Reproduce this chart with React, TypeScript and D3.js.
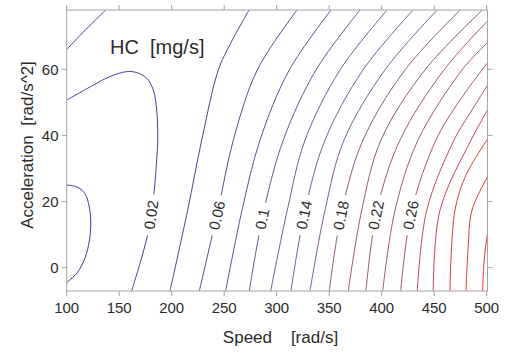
import React, { useEffect, useRef } from "react";
import * as d3 from "d3";

const W = 507;
const H = 353;

// axes
const speedTicks = [100, 150, 200, 250, 300, 350, 400, 450, 500];
const accelTicks = [0, 20, 40, 60];
const speedExtent = [100, 500.8];
const accelExtent = [-7.05, 77.93];

// contour lines: [speed, acceleration]
const hcLoop: [number, number][] = [[100, 25.0], [109.8, 24.4], [117.4, 22.4], [121.5, 18.4], [122.9, 13.8], [121.7, 8.4], [117.4, 2.9], [109.8, -1.6], [100, -4.5]];
const hc002: [number, number][] = [[161.9, -7], [169.8, 1.3], [176.7, 9.4], [180.3, 15.9], [183.4, 23.5], [185.7, 32.6], [186.7, 38.6], [185.7, 47.7], [182.5, 53.7], [176.2, 57.3], [166.7, 59.0], [157.1, 59.3], [141.2, 57.8], [125.3, 55.2], [100, 50.7]];
const hcCorner: [number, number][] = [[100, 66.0], [118.4, 72.1], [137.1, 77.9]];
const hc004: [number, number][] = [[198.4, -7], [215.2, 17.4], [228.6, 38.6], [244.4, 59.8], [255.5, 67.5], [273.6, 77.9]];
const hc006: [number, number][] = [[226.3, -7], [244.1, 17.4], [258.7, 38.6], [281.5, 59.8], [319.3, 77.9]];
const hc008: [number, number][] = [[251.4, -7], [267.0, 17.4], [284.1, 38.6], [312.0, 59.8], [351.7, 77.9]];
const hc010: [number, number][] = [[273.9, -7], [287.9, 17.4], [306.3, 38.6], [337.4, 59.8], [379.3, 77.9]];
const hc012: [number, number][] = [[294.3, -7], [310.1, 17.4], [327.0, 38.6], [360.3, 59.8], [405.1, 77.9]];
const hc014: [number, number][] = [[313.6, -7], [327.0, 17.4], [346.0, 38.6], [382.2, 59.8], [429.8, 77.9]];
const hc016: [number, number][] = [[331.7, -7], [346.0, 17.4], [364.1, 38.6], [403.1, 59.8], [452.7, 77.9]];
const hc018: [number, number][] = [[350.1, -7], [362.2, 17.4], [382.2, 38.6], [422.2, 59.8], [474.6, 77.9]];
const hc020: [number, number][] = [[368.2, -7], [381.0, 17.4], [399.3, 38.6], [441.2, 59.8], [495.8, 77.9]];
const hc022: [number, number][] = [[385.0, -7], [395.5, 17.4], [417.4, 38.6], [459.3, 59.8], [500.8, 74.6]];
const hc024: [number, number][] = [[401.0, -7], [412.7, 17.4], [434.6, 38.6], [476.5, 59.8], [500.8, 68.1]];
const hc026: [number, number][] = [[418.1, -7], [428.6, 17.4], [451.7, 38.6], [474.6, 50.7], [500.8, 62.0]];
const hc028: [number, number][] = [[433.9, -7], [442.9, 17.4], [468.9, 38.6], [486.0, 47.7], [500.8, 55.2]];
const hc030: [number, number][] = [[449.1, -7], [455.5, 17.4], [485.1, 38.6], [500.8, 47.7]];
const hc032: [number, number][] = [[465.0, -7], [469.8, 17.4], [480.3, 28.0], [500.8, 38.9]];
const hc034: [number, number][] = [[480.3, -7], [482.2, 5.4], [486.0, 17.4], [500.8, 27.5]];
const hc036: [number, number][] = [[496.2, -7], [497.4, 1.7], [500.8, 10.5]];

const contourLevels = [0, 0.02, 0.04, 0.04, 0.06, 0.08, 0.1, 0.12, 0.14, 0.16, 0.18, 0.2, 0.22, 0.24, 0.26, 0.28, 0.3, 0.32, 0.34, 0.36];
const contourLines = [hcLoop, hc002, hcCorner, hc004, hc006, hc008, hc010, hc012, hc014, hc016, hc018, hc020, hc022, hc024, hc026, hc028, hc030, hc032, hc034, hc036];

// inline labels
const labelLine = [1, 4, 6, 8, 10, 12, 14];
const labelTexts = ["0.02", "0.06", "0.1", "0.14", "0.18", "0.22", "0.26"];
const labelAccel = [15.9, 15.9, 14.7, 15.9, 15.9, 15.9, 15.9];

const FONT = "'Liberation Sans', Arial, Helvetica, sans-serif";
const TEXT = "#2b2b2b";
const FRAME = "#a3a3a3";

export default function App() {
  const ref = useRef<SVGSVGElement | null>(null);

  useEffect(() => {
    const svg = d3.select(ref.current);
    svg.selectAll("*").remove();

    const x = d3.scaleLinear().domain([100, 500]).range([66.7, 486.7]);
    const y = d3.scaleLinear().domain([0, 60]).range([267.7, 69.3]);
    const x0 = x(speedExtent[0]);
    const x1 = x(speedExtent[1]);
    const y0 = y(accelExtent[0]);
    const y1 = y(accelExtent[1]);

    const color = d3
      .scaleLinear<string>()
      .domain([0, 0.12, 0.24, 0.36])
      .range(["#37399c", "#7158a6", "#ad5374", "#f0301c"])
      .interpolate(d3.interpolateRgb);

    svg.append("rect").attr("width", W).attr("height", H).attr("fill", "#fff");

    svg
      .append("defs")
      .append("clipPath")
      .attr("id", "plotclip")
      .append("rect")
      .attr("x", x0)
      .attr("y", y1)
      .attr("width", x1 - x0)
      .attr("height", y0 - y1);

    const g = svg.append("g").attr("clip-path", "url(#plotclip)");
    const line = d3
      .line<[number, number]>()
      .x((d) => x(d[0]))
      .y((d) => y(d[1]))
      .curve(d3.curveCatmullRom.alpha(0.5));

    const paths = contourLines.map((pts, i) =>
      g
        .append("path")
        .attr("d", line(pts) as string)
        .attr("fill", "none")
        .attr("stroke", color(contourLevels[i]))
        .attr("stroke-width", 1)
    );

    // labels
    const lg = svg.append("g");
    labelLine.forEach((li, k) => {
      const node = paths[li].node() as SVGPathElement;
      const total = node.getTotalLength();
      const ty = y(labelAccel[k]);
      let best = 0;
      let bestD = Infinity;
      for (let s = 0; s <= total; s += 0.5) {
        const p = node.getPointAtLength(s);
        const d = Math.abs(p.y - ty);
        if (d < bestD) {
          bestD = d;
          best = s;
        }
      }
      const p = node.getPointAtLength(best);
      const pa = node.getPointAtLength(Math.max(0, best - 4));
      const pb = node.getPointAtLength(Math.min(total, best + 4));
      let ang = (Math.atan2(pb.y - pa.y, pb.x - pa.x) * 180) / Math.PI;
      if (ang > 0) ang -= 180;
      const tg = lg.append("g").attr("transform", `translate(${p.x},${p.y}) rotate(${ang})`);
      const txt = tg
        .append("text")
        .attr("text-anchor", "middle")
        .attr("dy", "0.36em")
        .attr("font-family", FONT)
        .attr("font-size", 15)
        .attr("fill", TEXT)
        .text(labelTexts[k]);
      const len = (txt.node() as SVGTextElement).getComputedTextLength();
      tg.insert("rect", "text")
        .attr("x", -len / 2 - 6)
        .attr("y", -6.5)
        .attr("width", len + 12)
        .attr("height", 13)
        .attr("fill", "#fff");
    });

    // frame
    const fr = svg.append("g").attr("stroke", FRAME).attr("fill", "none").attr("stroke-width", 1);
    fr.append("rect").attr("x", x0).attr("y", y1).attr("width", x1 - x0).attr("height", y0 - y1);
    speedTicks.forEach((t) => {
      const px = x(t);
      fr.append("line").attr("x1", px).attr("x2", px).attr("y1", y0).attr("y2", y0 + 5);
      fr.append("line").attr("x1", px).attr("x2", px).attr("y1", y1).attr("y2", y1 - 5);
    });
    accelTicks.forEach((t) => {
      const py = y(t);
      fr.append("line").attr("x1", x0).attr("x2", x0 - 5).attr("y1", py).attr("y2", py);
      fr.append("line").attr("x1", x1).attr("x2", x1 + 5).attr("y1", py).attr("y2", py);
    });

    const tx = svg.append("g").attr("font-family", FONT).attr("fill", TEXT);
    speedTicks.forEach((t) => {
      tx.append("text").attr("x", x(t)).attr("y", 313).attr("text-anchor", "middle").attr("font-size", 15).text(String(t));
    });
    accelTicks.forEach((t) => {
      tx.append("text").attr("x", 58.5).attr("y", y(t)).attr("dy", "0.36em").attr("text-anchor", "end").attr("font-size", 15).text(String(t));
    });

    tx.append("text")
      .attr("x", 280.5)
      .attr("y", 343)
      .attr("text-anchor", "middle")
      .attr("font-size", 17)
      .style("white-space", "pre")
      .text("Speed    [rad/s]");

    tx.append("text")
      .attr("transform", "translate(33.3,145) rotate(-90)")
      .attr("text-anchor", "middle")
      .attr("font-size", 17)
      .style("white-space", "pre")
      .text("Acceleration  [rad/s^2]");

    tx.append("text")
      .attr("x", 110)
      .attr("y", 53.5)
      .attr("font-size", 20)
      .style("white-space", "pre")
      .text("HC  [mg/s]");
  }, []);

  return (
    <svg
      ref={ref}
      width={W}
      height={H}
      style={{ position: "absolute", left: 0, top: 0, display: "block" }}
    />
  );
}
